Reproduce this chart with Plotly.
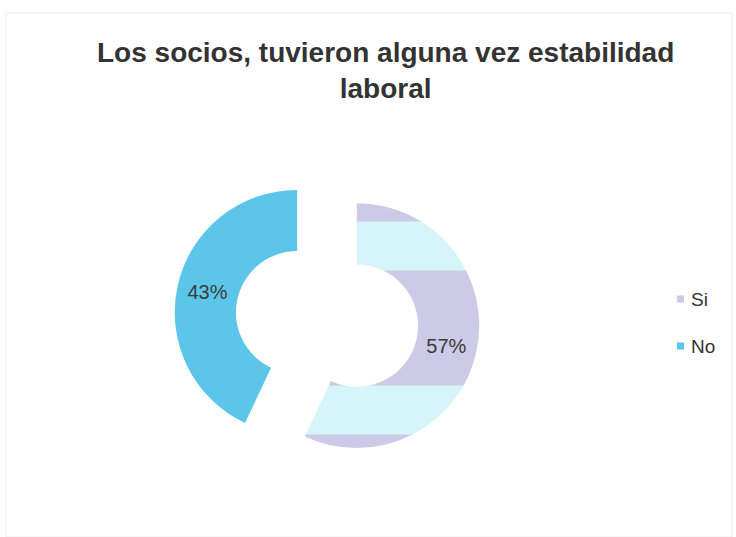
import plotly.graph_objects as go

# Survey answers and their shares (percent)
labels = ["Si", "No"]
values = [57, 43]
colors = ["#cbcbe7", "#5cc6ea"]
stripe_colors = ["#d6f5f8", "#62cbee"]

title_text = "Los socios, tuvieron alguna vez estabilidad<br>laboral"

W, H = 736, 537
FONT = "Liberation Sans, Arial, sans-serif"

fig = go.Figure()

fig.add_trace(go.Pie(
    labels=labels,
    values=values,
    hole=0.5,
    sort=False,
    direction="clockwise",
    rotation=0,
    pull=[0.25, 0.25],
    marker=dict(
        colors=colors,
        line=dict(width=0),
        pattern=dict(
            shape=["-", ""],
            fgcolor=stripe_colors,
            bgcolor=colors,
            size=164,
            solidity=0.3,
            fillmode="replace",
        ),
    ),
    texttemplate="%{percent:.0%}",
    textposition="inside",
    insidetextorientation="horizontal",
    textfont=dict(family=FONT, size=20, color="#3a3a3a"),
    domain=dict(x=[0.2364, 0.6522], y=[0.1211, 0.6909]),
    showlegend=False,
    hoverinfo="label+percent",
))

# Legend drawn as small squares with labels on the right
legend_x0 = 677
legend_y0 = 299
legend_step = 47
shapes = []
annotations = []
for i, (lab, col) in enumerate(zip(labels, colors)):
    yc = legend_y0 + i * legend_step
    shapes.append(dict(
        type="rect", xref="paper", yref="paper",
        x0=legend_x0 / W, x1=(legend_x0 + 7) / W,
        y0=1 - (yc + 3.5) / H, y1=1 - (yc - 3.5) / H,
        fillcolor=col, line=dict(width=0),
    ))
    annotations.append(dict(
        x=(legend_x0 + 12) / W, y=1 - yc / H,
        xref="paper", yref="paper",
        xanchor="left", yanchor="middle",
        text=lab, showarrow=False,
        font=dict(family=FONT, size=19, color="#333333"),
    ))

# Chart title
annotations.append(dict(
    x=385 / W, y=1 - 35 / H,
    xref="paper", yref="paper",
    xanchor="center", yanchor="top",
    text="<b>" + title_text + "</b>", showarrow=False,
    font=dict(family=FONT, size=28, color="#333333"),
))

# Faint chart frame
shapes.append(dict(
    type="rect", xref="paper", yref="paper",
    x0=6 / W, x1=732 / W, y0=0, y1=1 - 13 / H,
    line=dict(color="#ececec", width=1), fillcolor="rgba(0,0,0,0)",
))

fig.update_layout(
    width=W, height=H,
    margin=dict(l=0, r=0, t=0, b=0),
    paper_bgcolor="white",
    plot_bgcolor="white",
    shapes=shapes,
    annotations=annotations,
)

fig.write_html("out.html")
